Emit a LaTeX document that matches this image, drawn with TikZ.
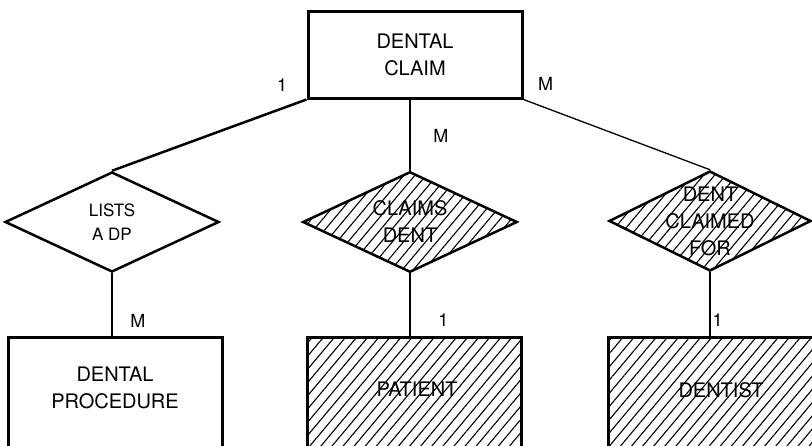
\documentclass[tikz,border=0pt]{standalone}
\usepackage{fontspec}
\setmainfont{TeX Gyre Heros}
\usetikzlibrary{shapes.geometric,patterns.meta,positioning}

\begin{document}
\begin{tikzpicture}[
    x=1pt, y=-1pt,
    font=\fontsize{20}{27}\selectfont,
    entity/.style={draw, line width=3pt, minimum width=214pt, minimum height=87pt, align=center, inner sep=0pt},
    lowentity/.style={entity, minimum height=130pt},
    relship/.style={draw, diamond, line width=2.5pt, minimum width=214pt, minimum height=100pt, inner sep=0pt},
    hatch/.style={pattern={Lines[angle=50,distance=8.5pt,line width=1.1pt]}},
    rtext/.style={align=center, inner sep=0pt},
    card/.style={font=\fontsize{18}{20}\selectfont, inner sep=0pt},
    link/.style={line width=2.5pt},
    thinlink/.style={line width=1.3pt}
]
\clip (0,0) rectangle (812,445);

% entities and relationships
\node[entity] (claim) at (415,54.5) {DENTAL\\CLAIM};
\node[relship, label={[rtext, name=listsT, font=\fontsize{17}{24}\selectfont]center:LISTS\\A DP}] (lists) at (112,222) {};
\node[relship, hatch, label={[rtext, name=claimsT]center:CLAIMS\\DENT}] (claims) at (410,222) {};
\node[relship, hatch, minimum width=202pt, label={[rtext, name=dcfT]center:DENT\\CLAIMED\\FOR}] (dcf) at (710,221) {};

\node[lowentity, below=63pt of lists, xshift=3pt] (proc) {};
\node[lowentity, hatch, below=63pt of claims, xshift=4pt] (patient) {};
\node[lowentity, hatch, below=64pt of dcf, xshift=5pt] (dentist) {};
\node[rtext] (procT) at ([yshift=-52pt]proc.north) {DENTAL\\PROCEDURE};
\node[rtext] (patientT) at ([xshift=3pt, yshift=-54pt]patient.north) {PATIENT};
\node[rtext] (dentistT) at ([xshift=6pt, yshift=-54pt]dentist.north) {DENTIST};

% connectors
\draw[link] (claim.south west) -- node[card, pos=0, above left=7pt and 18pt] {1} (lists.north);
\draw[link] (claim.south -| claims.north) -- node[card, right=22pt] {M} (claims.north);
\draw[thinlink] (claim.south east) -- node[card, pos=0, above right=8pt and 14pt] {M} (dcf.north);
\draw[link] (lists.south) -- node[card, pos=0.75, right=17pt] {M} (lists.south |- proc.north);
\draw[link] (claims.south) -- node[card, pos=0.75, right=27pt] {1} (claims.south |- patient.north);
\draw[thinlink] (dcf.south) -- node[card, pos=0.75, right=2pt] {1} (dcf.south |- dentist.north);

\end{tikzpicture}
\end{document}
